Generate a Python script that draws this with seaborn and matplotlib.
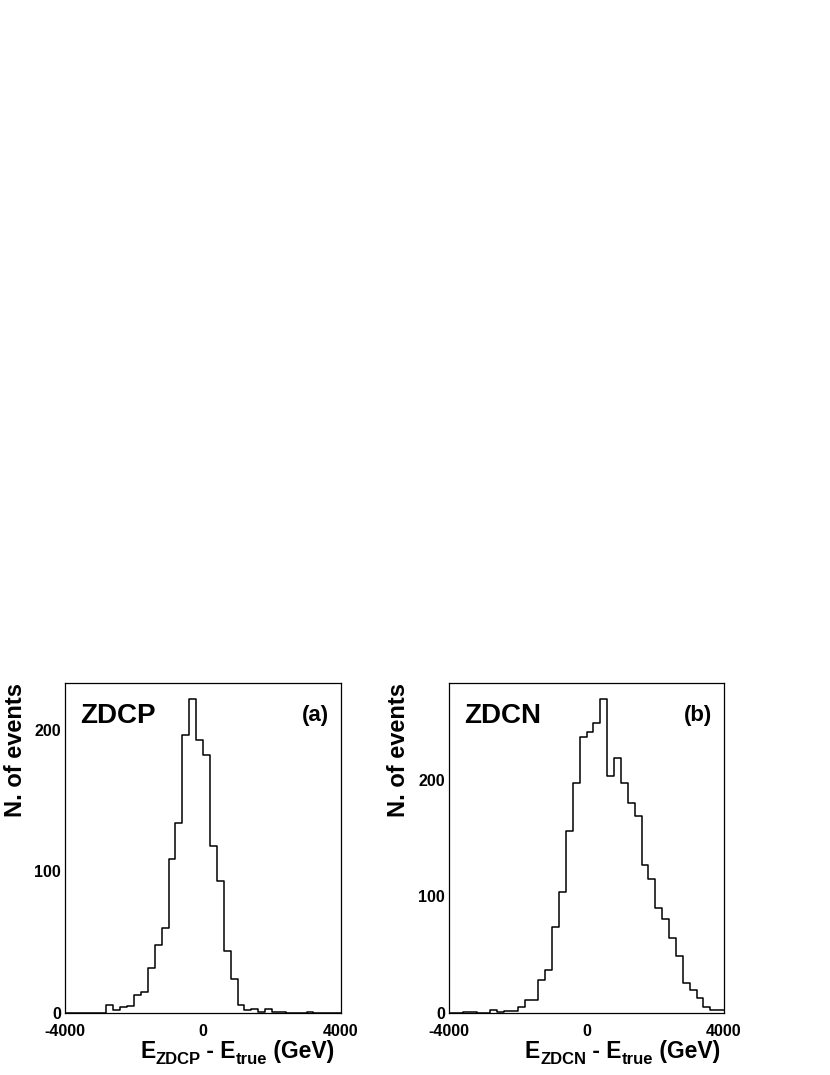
import numpy as np
import pandas as pd
import matplotlib
matplotlib.use("Agg")
import matplotlib.pyplot as plt
from matplotlib.ticker import MultipleLocator
import seaborn as sns

# ---- data ----
x_min, x_max, bin_width = -4000, 4000, 200
zdcp_counts = [0, 0, 0, 0, 0, 0, 6, 2, 4, 5,
               13, 15, 32, 48, 60, 109, 134, 196, 222, 193,
               182, 118, 93, 44, 24, 6, 2, 3, 1, 3,
               1, 1, 0, 0, 0, 1, 0, 0, 0, 0]
zdcn_counts = [0, 0, 1, 1, 0, 0, 3, 1, 2, 2,
               5, 11, 11, 28, 37, 74, 104, 156, 197, 237,
               241, 249, 269, 203, 219, 197, 180, 169, 127, 115,
               90, 81, 64, 49, 26, 20, 13, 5, 3, 3]
panel_names = ["ZDCP", "ZDCN"]
panel_tags = ["(a)", "(b)"]
x_label_parts = [[("E", 0), ("ZDCP", 1), (" - E", 0), ("true", 1), (" (GeV)", 0)],
                 [("E", 0), ("ZDCN", 1), (" - E", 0), ("true", 1), (" (GeV)", 0)]]
y_label = "N. of events"
y_tops = [233, 283]
x_ticks = [-4000, 0, 4000]
x_ticklabels = ["-4000", "0", "4000"]

sns.set_style("white")
plt.rcParams["font.family"] = ["Liberation Sans", "DejaVu Sans"]
plt.rcParams["font.weight"] = "bold"
for key in ["text.color", "axes.labelcolor", "xtick.color", "ytick.color",
            "axes.edgecolor"]:
    plt.rcParams[key] = "black"

W, H = 830, 1075
fig = plt.figure(figsize=(W / 100, H / 100), dpi=100)

n_bins = len(zdcp_counts)
centers = x_min + bin_width * (np.arange(n_bins) + 0.5)

axes_px = [(65, 683, 341, 1013), (449, 683, 724, 1013)]
ylab_x = [-0.178, -0.184]
xlab_x = [0.272, 0.276]

for i, counts in enumerate([zdcp_counts, zdcn_counts]):
    l, t, r, b = axes_px[i]
    ax = fig.add_axes([l / W, 1 - b / H, (r - l) / W, (b - t) / H])
    df = pd.DataFrame({"x": centers, "w": np.asarray(counts, dtype=float)})
    sns.histplot(data=df, x="x", weights="w", binwidth=bin_width,
                 binrange=(x_min, x_max), element="step",
                 fill=False, color="black", linewidth=1.1, ax=ax)
    ax.set_xlim(x_min, x_max)
    ax.set_ylim(0, y_tops[i])
    ax.set_xlabel("")
    ax.set_ylabel("")
    ax.set_xticks(x_ticks)
    ax.set_xticklabels(x_ticklabels)
    ax.xaxis.set_minor_locator(MultipleLocator(800))
    ax.yaxis.set_major_locator(MultipleLocator(100))
    ax.yaxis.set_minor_locator(MultipleLocator(20))
    ax.tick_params(which="both", direction="in", colors="black",
                   labelsize=11.5, width=0.9)
    ax.tick_params(which="major", length=6)
    ax.tick_params(which="minor", length=3)
    ax.tick_params(axis="x", pad=8)
    ax.tick_params(axis="y", pad=3)
    for lab in ax.get_xticklabels() + ax.get_yticklabels():
        lab.set_fontweight("bold")
    for sp in ax.spines.values():
        sp.set_visible(True)
        sp.set_color("black")
        sp.set_linewidth(0.9)
    ax.text(0.055, 0.879, panel_names[i], transform=ax.transAxes,
            fontsize=20, fontweight="bold", ha="left", va="baseline")
    ax.text(0.955, 0.886, panel_tags[i], transform=ax.transAxes,
            fontsize=16, fontweight="bold", ha="right", va="baseline")
    ax.text(ylab_x[i], 1.0, y_label, transform=ax.transAxes, rotation=90,
            fontsize=17, fontweight="bold", ha="center", va="top")
    # x label built from pieces (main text + subscripts)
    base_y = -45 / 330
    prev = None
    for txt, is_sub in x_label_parts[i]:
        size = 12 if is_sub else 16.5
        dy = -4 if is_sub else 0
        if prev is None:
            prev = ax.annotate(txt, xy=(xlab_x[i], base_y), xycoords="axes fraction",
                               fontsize=size, fontweight="bold", ha="left",
                               va="baseline", annotation_clip=False)
        else:
            prev = ax.annotate(txt, xy=(1, base_y), xycoords=(prev, ax.transAxes),
                               xytext=(0, dy), textcoords="offset points",
                               fontsize=size, fontweight="bold", ha="left",
                               va="baseline", annotation_clip=False)

fig.savefig("out.png", dpi=100, facecolor="white")
